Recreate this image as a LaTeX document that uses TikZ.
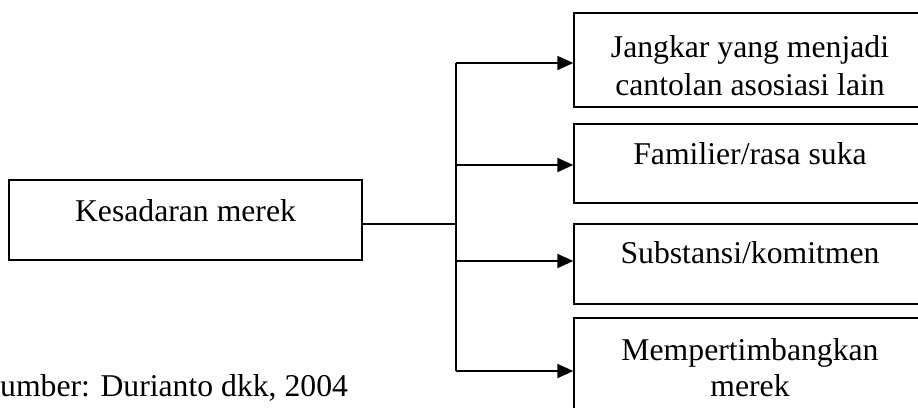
\documentclass[tikz,border=0pt]{standalone}
\usepackage{fontspec}
\setmainfont{Liberation Serif}
\usetikzlibrary{arrows.meta}
\begin{document}
\begin{tikzpicture}[x=1pt,y=-1pt,
  boxnode/.style={draw, line width=1.3pt, rectangle, inner sep=0pt},
  txt/.style={font=\fontsize{31.7}{37}\selectfont, inner sep=0pt, anchor=base, align=center},
  trunk/.style={line width=1.7pt},
  thinline/.style={line width=1.1pt},
  arr/.style={line width=1.8pt, -{Triangle[length=16pt,width=14pt]}}]
\useasboundingbox (0,0) rectangle (918,407);
% boxes
\node[boxnode, minimum width=353pt, minimum height=80pt] (k) at (185.5,220) {};
\node[boxnode, minimum width=352pt, minimum height=94pt] (b1) at (750,60) {};
\node[boxnode, minimum width=352pt, minimum height=79pt] (b2) at (750,163.5) {};
\node[boxnode, minimum width=352pt, minimum height=80pt] (b3) at (750,264) {};
\node[boxnode, minimum width=352pt, minimum height=94pt] (b4) at (750,365) {};
% texts
\node[txt] (tk) at (185.5,221) {Kesadaran merek};
\node[txt] (t1a) at (750,57) {Jangkar yang menjadi};
\node[txt] (t1b) at (750,95) {cantolan asosiasi lain};
\node[txt] (t2) at (750,164) {Familier/rasa suka};
\node[txt] (t3) at (750,263) {Substansi/komitmen};
\node[txt] (t4a) at (750,360) {Mempertimbangkan};
\node[txt] (t4b) at (750,396) {merek};
\node[txt, anchor=base west] (src) at (0,396) {umber: Durianto dkk, 2004};
% connectors
\coordinate (j) at (456,224);
\coordinate (p1) at (456,63);
\coordinate (p2) at (456,165);
\coordinate (p3) at (456,261);
\coordinate (p4) at (456,371);
\draw[thinline] (k.east |- j) -- (j);
\draw[trunk] (p1) -- (p4);
\draw[arr] (p1) -- (p1 -| b1.west);
\draw[arr] (p2) -- (p2 -| b2.west);
\draw[arr] (p3) -- (p3 -| b3.west);
\draw[arr] (p4) -- (p4 -| b4.west);
\end{tikzpicture}
\end{document}
